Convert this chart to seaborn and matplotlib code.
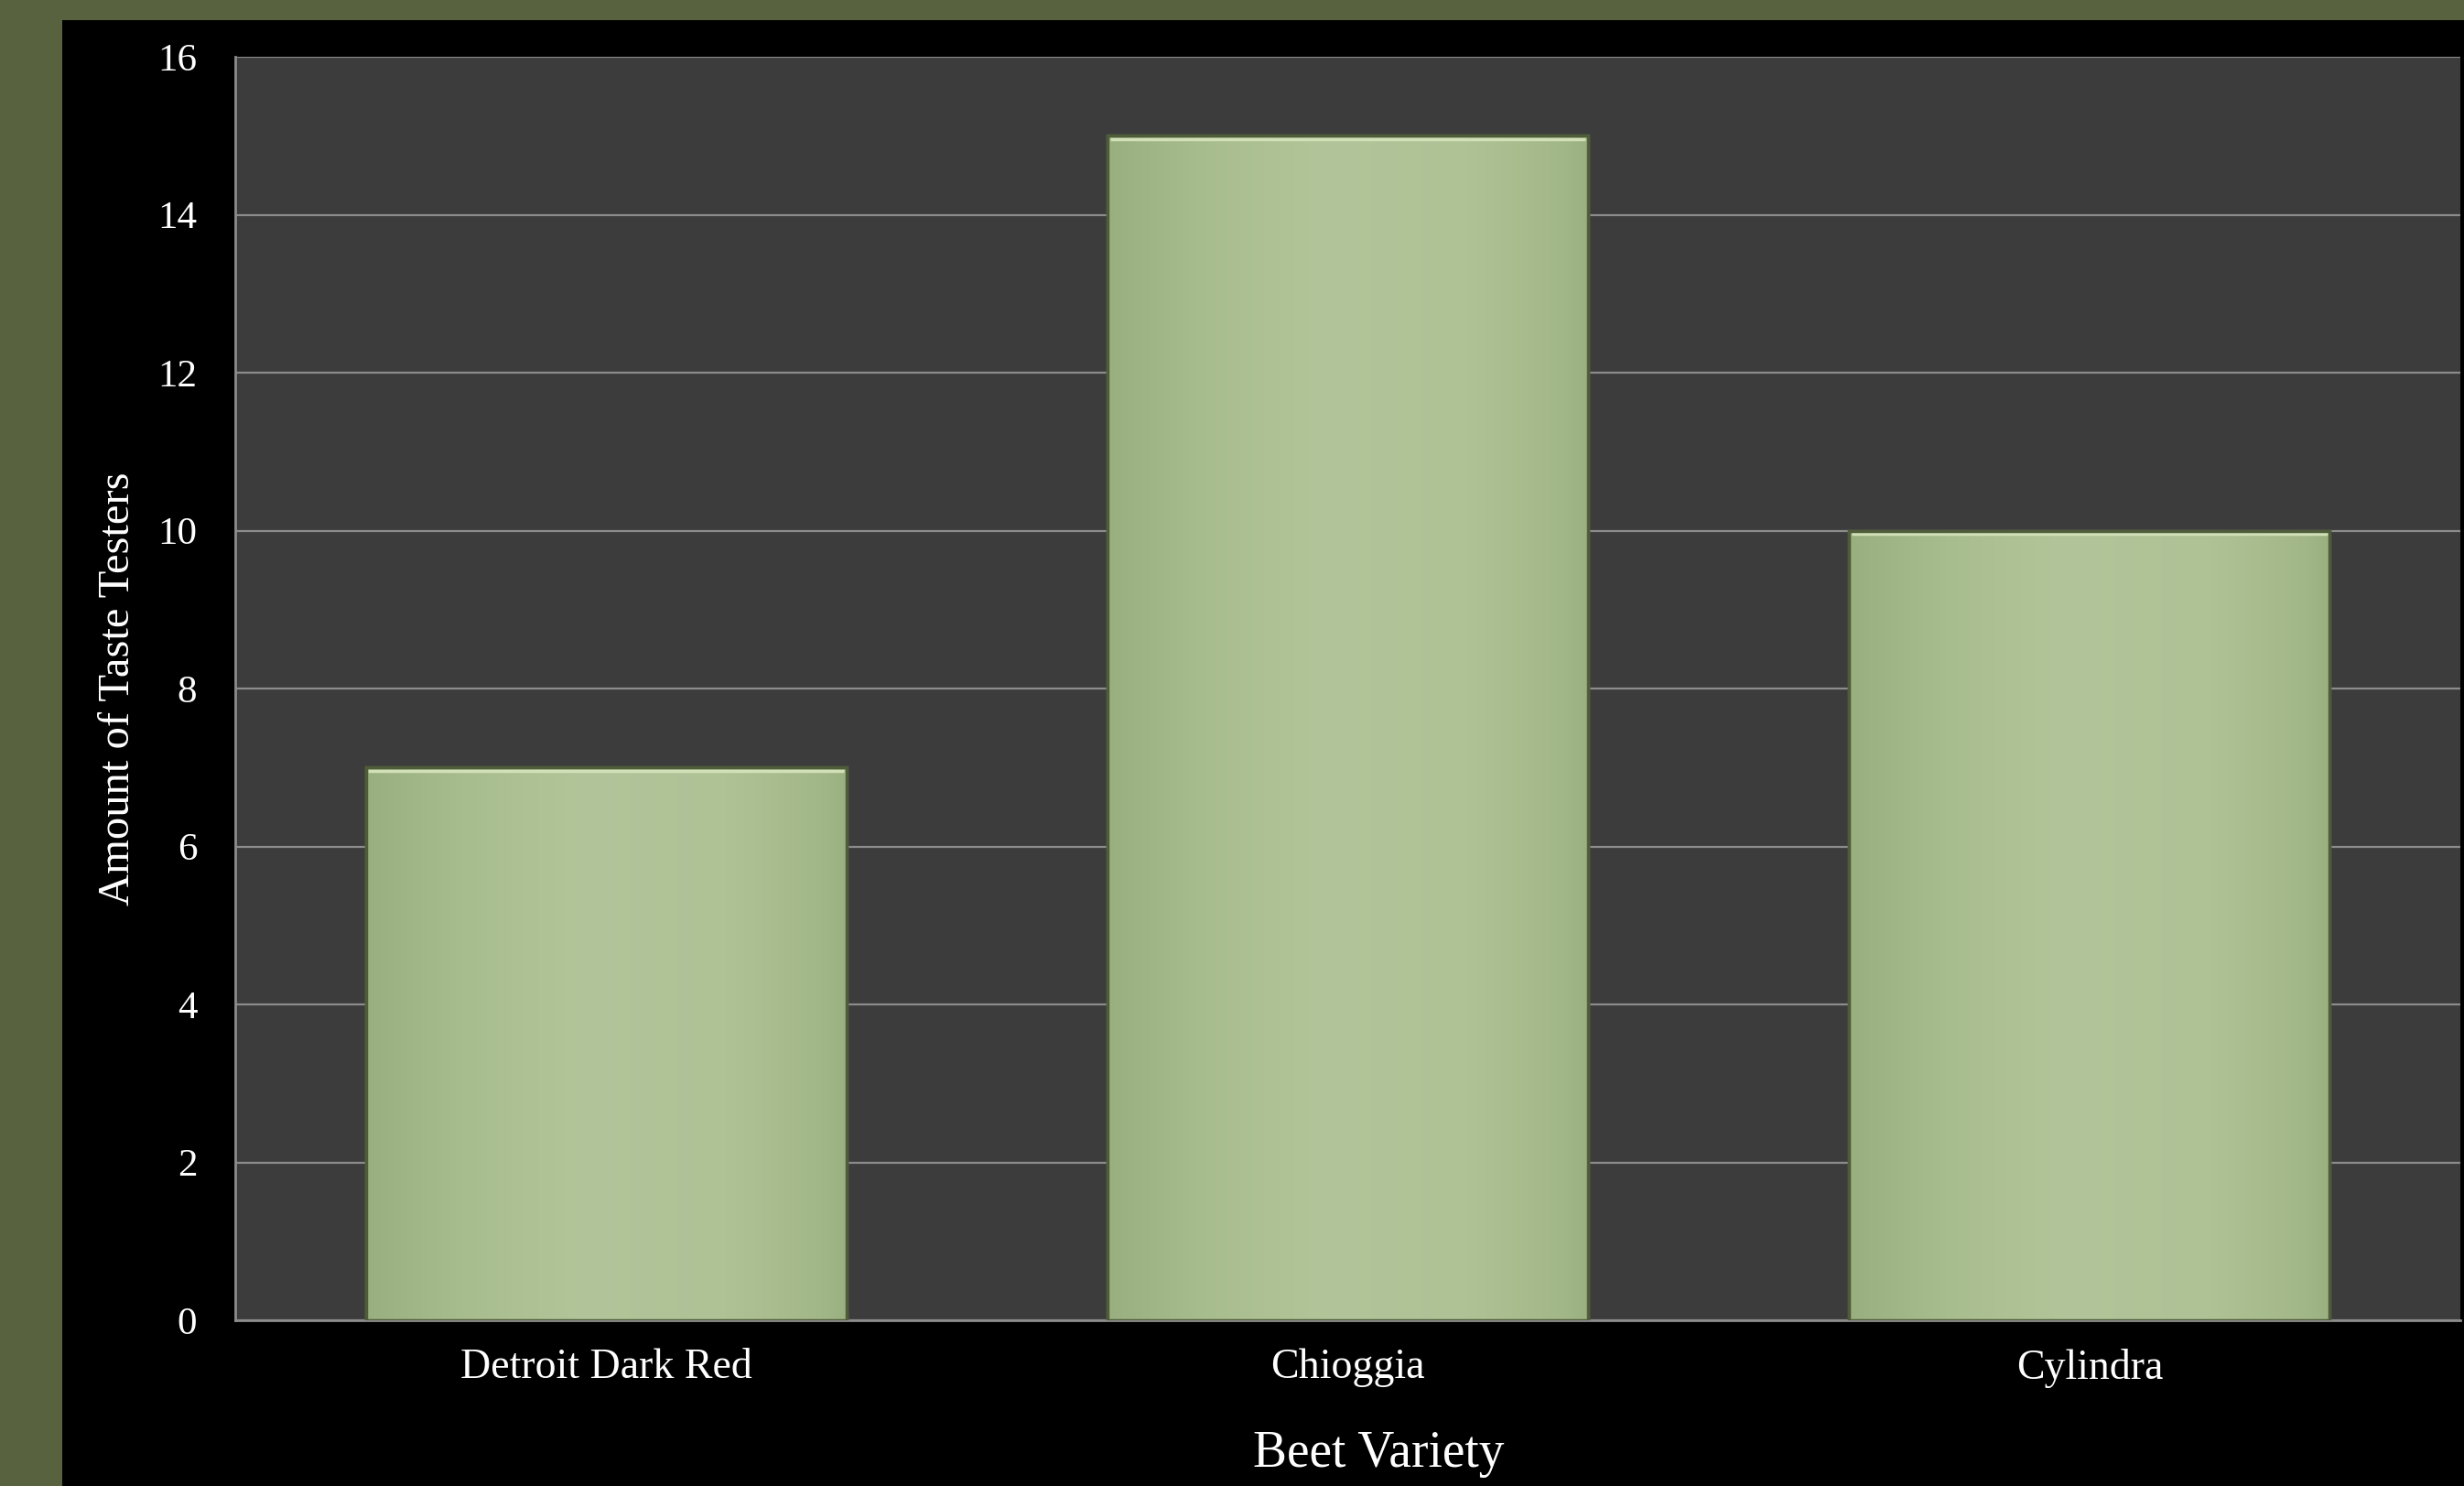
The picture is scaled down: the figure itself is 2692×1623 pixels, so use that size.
import numpy as np
import pandas as pd
import matplotlib
matplotlib.use("Agg")
import matplotlib.pyplot as plt
import seaborn as sns
from matplotlib.colors import LinearSegmentedColormap
from matplotlib.patches import Rectangle

# ---- data ----
varieties = ["Detroit Dark Red", "Chioggia", "Cylindra"]
taste_testers = [7, 15, 10]
y_ticks = [0, 2, 4, 6, 8, 10, 12, 14, 16]

df = pd.DataFrame({"Beet Variety": varieties, "Amount of Taste Testers": taste_testers})

sns.set_theme(style="dark")
plt.rcParams['font.family'] = ['Liberation Serif', 'DejaVu Serif']

W, H = 2692, 1623
fig = plt.figure(figsize=(W / 100, H / 100), dpi=100)
fig.patch.set_facecolor('#58623f')

# black panel (background axes)
bg = fig.add_axes([68 / W, 0, 1 - 68 / W, 1 - 22 / H], zorder=-10)
bg.set_facecolor('black')
bg.set_xticks([]); bg.set_yticks([])
for s in bg.spines.values():
    s.set_visible(False)

ax = fig.add_axes([257 / W, 1 - 1442 / H, (2688 - 257) / W, (1442 - 62) / H], zorder=1)
ax.set_facecolor('#3c3c3c')

sns.barplot(data=df, x="Beet Variety", y="Amount of Taste Testers", color='#aec396',
            saturation=1, width=0.648, ax=ax, edgecolor='#56653f', linewidth=2.5, zorder=3)

ax.set_ylim(0, 16)
ax.set_yticks(y_ticks)
ax.set_yticklabels([str(t) for t in y_ticks])

# gradient overlay on each bar
cmap = LinearSegmentedColormap.from_list('beet', [
    (0.0, '#9aaf7f'), (0.2, '#a8bd8e'), (0.45, '#b2c59a'),
    (0.75, '#afc296'), (0.95, '#a2b787'), (1.0, '#9bb080')])
grad = np.linspace(0, 1, 256).reshape(1, -1)
for p in list(ax.patches):
    x0, y0 = p.get_x(), p.get_y()
    w, h = p.get_width(), p.get_height()
    im = ax.imshow(grad, cmap=cmap, aspect='auto', extent=[x0, x0 + w, y0, y0 + h],
                   zorder=3.5, interpolation='bicubic')
    im.set_clip_path(p)
    # top highlight
    ax.plot([x0 + w * 0.005, x0 + w * 0.995], [y0 + h - 0.04, y0 + h - 0.04],
            color='#d2e0b8', lw=2.5, zorder=4, solid_capstyle='butt')
    # edge outline on top
    ax.add_patch(Rectangle((x0, y0), w, h, facecolor='none', edgecolor='#4e5c3a', lw=2.5, zorder=4.5))
ax.set_xlim(-0.5, 2.5)
ax.set_ylim(0, 16)

ax.grid(axis='y', color='#8c8c8c', linewidth=1.6)
ax.grid(axis='x', visible=False)
ax.set_axisbelow(True)

for s in ['top', 'right']:
    ax.spines[s].set_visible(False)
for s in ['left', 'bottom']:
    ax.spines[s].set_visible(True)
    ax.spines[s].set_color('#8c8c8c')
    ax.spines[s].set_linewidth(2)
    ax.spines[s].set_zorder(2)

ax.tick_params(axis='y', length=0, colors='white', labelsize=31, pad=30)
ax.tick_params(axis='x', length=0, colors='white', labelsize=33, pad=22)

ax.set_xlabel("Beet Variety", color='white', fontsize=40)
ax.xaxis.label.set_va('center')
ax.xaxis.set_label_coords(0.514, -0.106)
ax.set_ylabel("Amount of Taste Testers", color='white', fontsize=35)
ax.yaxis.label.set_va('center')
ax.yaxis.set_label_coords(-0.0527, 0.5)

fig.savefig("out.png", dpi=100, facecolor=fig.get_facecolor())
